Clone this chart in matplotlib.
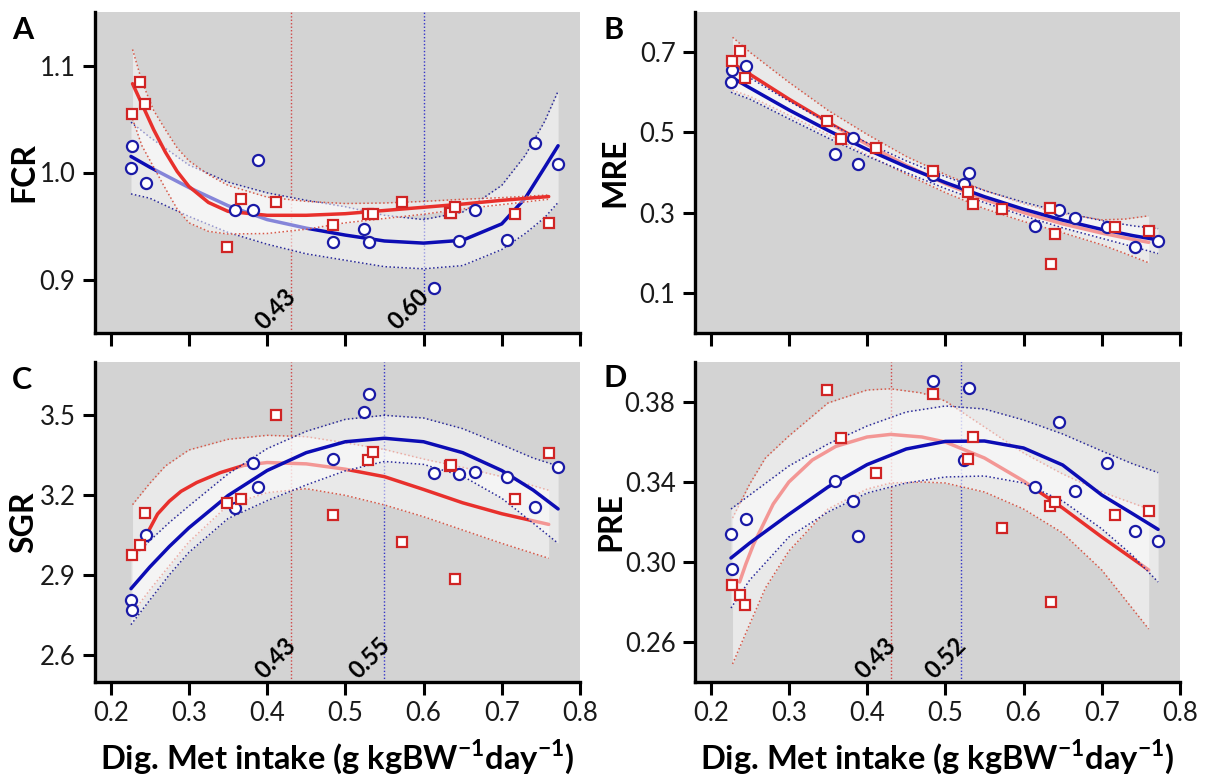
import matplotlib
matplotlib.use("Agg")
import matplotlib.pyplot as plt
import matplotlib.transforms as mtransforms

plt.rcParams['font.family'] = ['Lato', 'DejaVu Sans']
plt.rcParams['mathtext.fontset'] = 'custom'
plt.rcParams['mathtext.bf'] = 'Lato:bold'
plt.rcParams['mathtext.rm'] = 'Lato:bold'

# intake values of the two groups (same for every panel)
blue_x = [0.226, 0.227, 0.245, 0.359, 0.382, 0.388, 0.484, 0.524, 0.530, 0.614, 0.645, 0.666, 0.707, 0.742, 0.772]
red_x = [0.227, 0.237, 0.244, 0.349, 0.366, 0.411, 0.484, 0.529, 0.535, 0.573, 0.634, 0.635, 0.640, 0.717, 0.760]

# observed points
fcr_blue = [1.004, 1.025, 0.990, 0.965, 0.965, 1.012, 0.935, 0.947, 0.935, 0.892, 0.936, 0.965, 0.937, 1.028, 1.008]
fcr_red = [1.055, 1.085, 1.064, 0.930, 0.975, 0.972, 0.951, 0.961, 0.961, 0.972, 0.962, 0.962, 0.968, 0.961, 0.953]
mre_blue = [0.626, 0.656, 0.665, 0.447, 0.486, 0.420, 0.395, 0.372, 0.399, 0.267, 0.307, 0.287, 0.263, 0.215, 0.230]
mre_red = [0.679, 0.704, 0.635, 0.529, 0.483, 0.462, 0.404, 0.351, 0.322, 0.308, 0.312, 0.173, 0.247, 0.263, 0.253]
sgr_blue = [2.809, 2.771, 3.050, 3.151, 3.321, 3.232, 3.336, 3.511, 3.579, 3.284, 3.281, 3.287, 3.268, 3.155, 3.305]
sgr_red = [2.975, 3.013, 3.133, 3.173, 3.188, 3.500, 3.127, 3.331, 3.362, 3.026, 3.310, 3.315, 2.888, 3.188, 3.360]
pre_blue = [0.3138, 0.2967, 0.3213, 0.3403, 0.3307, 0.3131, 0.3903, 0.3510, 0.3870, 0.3373, 0.3701, 0.3357, 0.3497, 0.3153, 0.3106]
pre_red = [0.2883, 0.2835, 0.2786, 0.3861, 0.3618, 0.3447, 0.3841, 0.3514, 0.3625, 0.3169, 0.3282, 0.2800, 0.3299, 0.3235, 0.3254]

# fitted curves and confidence limits
fcr_blue_cx = [0.226, 0.25, 0.30, 0.35, 0.40, 0.45, 0.50, 0.55, 0.60, 0.65, 0.70, 0.73, 0.755, 0.772]
fcr_blue_fit = [1.015, 1.005, 0.986, 0.969, 0.956, 0.948, 0.9415, 0.936, 0.934, 0.9367, 0.952, 0.976, 1.005, 1.025]
fcr_blue_hi = [1.047, 1.033, 1.007, 0.991, 0.981, 0.974, 0.968, 0.960, 0.956, 0.963, 0.988, 1.016, 1.048, 1.076]
fcr_blue_lo = [0.980, 0.976, 0.959, 0.944, 0.933, 0.924, 0.918, 0.912, 0.910, 0.913, 0.928, 0.943, 0.958, 0.972]
fcr_red_cx = [0.228, 0.24, 0.255, 0.27, 0.285, 0.30, 0.325, 0.35, 0.40, 0.45, 0.50, 0.55, 0.60, 0.65, 0.70, 0.76]
fcr_red_fit = [1.083, 1.064, 1.040, 1.019, 1.001, 0.987, 0.972, 0.9637, 0.960, 0.960, 0.9615, 0.9645, 0.9675, 0.9705, 0.974, 0.9775]
fcr_red_hi = [1.115, 1.085, 1.058, 1.040, 1.023, 1.011, 0.998, 0.988, 0.977, 0.973, 0.971, 0.9715, 0.973, 0.975, 0.9765, 0.979]
fcr_red_lo = [1.050, 1.025, 1.005, 0.985, 0.966, 0.953, 0.945, 0.9425, 0.943, 0.947, 0.953, 0.957, 0.961, 0.966, 0.970, 0.975]

mre_blue_cx = [0.226, 0.25, 0.30, 0.35, 0.40, 0.45, 0.50, 0.55, 0.60, 0.65, 0.70, 0.74, 0.772]
mre_blue_fit = [0.638, 0.611, 0.556, 0.505, 0.4575, 0.4143, 0.375, 0.3397, 0.3085, 0.2813, 0.2582, 0.2426, 0.232]
mre_blue_hi = [0.665, 0.636, 0.578, 0.524, 0.474, 0.429, 0.390, 0.355, 0.326, 0.301, 0.280, 0.267, 0.260]
mre_blue_lo = [0.600, 0.583, 0.534, 0.486, 0.441, 0.400, 0.360, 0.325, 0.292, 0.262, 0.236, 0.215, 0.198]
mre_red_cx = [0.228, 0.25, 0.30, 0.35, 0.40, 0.45, 0.50, 0.55, 0.60, 0.65, 0.70, 0.73, 0.76]
mre_red_fit = [0.672, 0.645, 0.583, 0.525, 0.470, 0.418, 0.372, 0.333, 0.300, 0.272, 0.249, 0.237, 0.226]
mre_red_hi = [0.737, 0.700, 0.625, 0.555, 0.495, 0.440, 0.395, 0.355, 0.322, 0.297, 0.282, 0.284, 0.292]
mre_red_lo = [0.605, 0.590, 0.543, 0.495, 0.445, 0.396, 0.350, 0.310, 0.278, 0.250, 0.220, 0.198, 0.175]

sgr_blue_cx = [0.226, 0.25, 0.275, 0.30, 0.35, 0.40, 0.45, 0.50, 0.55, 0.60, 0.65, 0.70, 0.74, 0.772]
sgr_blue_fit = [2.850, 2.931, 3.008, 3.078, 3.199, 3.293, 3.360, 3.401, 3.414, 3.401, 3.360, 3.293, 3.220, 3.149]
sgr_blue_hi = [2.960, 3.030, 3.098, 3.160, 3.280, 3.375, 3.440, 3.485, 3.500, 3.490, 3.450, 3.390, 3.340, 3.310]
sgr_blue_lo = [2.715, 2.807, 2.902, 2.986, 3.113, 3.180, 3.239, 3.292, 3.327, 3.316, 3.272, 3.189, 3.096, 3.020]
sgr_red_cx = [0.248, 0.26, 0.275, 0.29, 0.31, 0.34, 0.37, 0.40, 0.45, 0.50, 0.55, 0.60, 0.65, 0.70, 0.76]
sgr_red_fit = [3.064, 3.130, 3.178, 3.215, 3.248, 3.285, 3.312, 3.323, 3.318, 3.298, 3.270, 3.222, 3.172, 3.131, 3.091]
sgr_band_cx = [0.228, 0.25, 0.27, 0.30, 0.35, 0.40, 0.45, 0.50, 0.55, 0.60, 0.65, 0.70, 0.76]
sgr_red_hi = [3.165, 3.245, 3.310, 3.370, 3.410, 3.425, 3.420, 3.397, 3.372, 3.336, 3.305, 3.270, 3.219]
sgr_red_lo = [2.760, 2.845, 2.918, 3.025, 3.163, 3.210, 3.225, 3.200, 3.164, 3.120, 3.070, 3.020, 2.964]

pre_blue_cx = [0.226, 0.25, 0.30, 0.35, 0.40, 0.45, 0.50, 0.55, 0.60, 0.65, 0.70, 0.74, 0.772]
pre_blue_fit = [0.302, 0.3095, 0.3238, 0.3375, 0.3487, 0.3565, 0.3603, 0.3605, 0.357, 0.3485, 0.3335, 0.324, 0.3163]
pre_blue_hi = [0.3265, 0.3335, 0.348, 0.359, 0.368, 0.375, 0.378, 0.3765, 0.371, 0.364, 0.3555, 0.349, 0.3447]
pre_blue_lo = [0.277, 0.291, 0.3125, 0.325, 0.3345, 0.3395, 0.3425, 0.343, 0.3395, 0.3305, 0.3166, 0.303, 0.290]
pre_red_cx = [0.237, 0.245, 0.255, 0.265, 0.28, 0.30, 0.33, 0.36, 0.40, 0.43, 0.47, 0.50, 0.55, 0.60, 0.65, 0.70, 0.76]
pre_red_fit = [0.290, 0.299, 0.309, 0.317, 0.329, 0.340, 0.351, 0.3578, 0.3625, 0.3638, 0.3625, 0.360, 0.352, 0.3405, 0.327, 0.3125, 0.296]
pre_band_cx = [0.228, 0.25, 0.27, 0.30, 0.35, 0.40, 0.43, 0.47, 0.50, 0.55, 0.60, 0.65, 0.70, 0.76]
pre_red_hi = [0.322, 0.339, 0.352, 0.363, 0.3795, 0.386, 0.3866, 0.3845, 0.3805, 0.3675, 0.3545, 0.344, 0.335, 0.3265]
pre_red_lo = [0.249, 0.269, 0.287, 0.3055, 0.3265, 0.3365, 0.3395, 0.340, 0.3395, 0.335, 0.3265, 0.3145, 0.296, 0.2665]

# optimum lines
optima = {'FCR': (0.43, 0.60), 'MRE': None, 'SGR': (0.43, 0.55), 'PRE': (0.43, 0.52)}

x_ticks = [0.2, 0.3, 0.4, 0.5, 0.6, 0.7, 0.8]
x_tick_labels = ['0.2', '0.3', '0.4', '0.5', '0.6', '0.7', '0.8']

RED = '#e8302c'
BLUE = '#0c0cb4'
RED_EDGE = '#d02424'
BLUE_EDGE = '#1a1aa6'
BG = '#d3d3d3'

W, H = 1208, 781
fig = plt.figure(figsize=(W / 100, H / 100), dpi=100)


def axes_px(left, top, right, bottom):
    return fig.add_axes([left / W, 1 - bottom / H, (right - left) / W, (bottom - top) / H])


def band(ax, x, lo, hi, color, z):
    ax.fill_between(x, lo, hi, color='white', alpha=0.5, lw=0, zorder=z)
    ax.plot(x, lo, color=color, lw=1.1, ls=(0, (1, 1.6)), zorder=z + 0.1)
    ax.plot(x, hi, color=color, lw=1.1, ls=(0, (1, 1.6)), zorder=z + 0.1)


def panel(ax, name, ylim, yticks, ylabels, blue_y, red_y, blue_c, red_c, red_first):
    ax.set_facecolor(BG)
    ax.set_xlim(0.18, 0.80)
    ax.set_ylim(*ylim)
    for s in ['top', 'right']:
        ax.spines[s].set_visible(False)
    for s in ['left', 'bottom']:
        ax.spines[s].set_linewidth(2.4)
    ax.tick_params(direction='out', length=9, width=2.2, pad=5, labelcolor='#1a1a1a')
    ax.set_xticks(x_ticks, x_tick_labels, fontsize=18.5)
    ax.set_yticks(yticks, ylabels, fontsize=18.5)

    bx, bfit, blo, bhi = blue_c
    rx, rfit, rbx, rlo, rhi = red_c
    if red_first:
        zr, zb = 2, 4
    else:
        zb, zr = 2, 4
    band(ax, rbx, rlo, rhi, '#d65a4a', zr)
    ax.plot(rx, rfit, color=RED, lw=2.5, zorder=zr + 0.5, solid_capstyle='round')
    band(ax, bx, blo, bhi, '#2a2a9a', zb)
    ax.plot(bx, bfit, color=BLUE, lw=2.5, zorder=zb + 0.5, solid_capstyle='round')

    ax.plot(blue_x, blue_y, 'o', ms=8, mfc='white', mec=BLUE_EDGE, mew=1.6, zorder=10)
    ax.plot(red_x, red_y, 's', ms=7.5, mfc='white', mec=RED_EDGE, mew=1.6, zorder=10)

    opt = optima[name]
    if opt:
        trans = mtransforms.blended_transform_factory(ax.transData, ax.transAxes)
        for xv, col in zip(opt, ['#d04848', '#3434c8']):
            ax.axvline(xv, color=col, lw=1.0, ls=(0, (1, 1.5)), zorder=1.5)
            ax.text(xv + 0.009, 0.11, f'{xv:.2f}', transform=trans, rotation=45,
                    rotation_mode='anchor', ha='right', va='baseline',
                    fontsize=17, fontweight='bold', zorder=11)


axA = axes_px(95, 12, 580, 333)
axB = axes_px(695, 12, 1180, 333)
axC = axes_px(95, 362, 580, 682)
axD = axes_px(695, 362, 1180, 682)

panel(axA, 'FCR', (0.85, 1.15), [0.9, 1.0, 1.1], ['0.9', '1.0', '1.1'], fcr_blue, fcr_red,
      (fcr_blue_cx, fcr_blue_fit, fcr_blue_lo, fcr_blue_hi),
      (fcr_red_cx, fcr_red_fit, fcr_red_cx, fcr_red_lo, fcr_red_hi), red_first=False)
panel(axB, 'MRE', (0.0, 0.8), [0.1, 0.3, 0.5, 0.7], ['0.1', '0.3', '0.5', '0.7'], mre_blue, mre_red,
      (mre_blue_cx, mre_blue_fit, mre_blue_lo, mre_blue_hi),
      (mre_red_cx, mre_red_fit, mre_red_cx, mre_red_lo, mre_red_hi), red_first=True)
panel(axC, 'SGR', (2.5, 3.7), [2.6, 2.9, 3.2, 3.5], ['2.6', '2.9', '3.2', '3.5'], sgr_blue, sgr_red,
      (sgr_blue_cx, sgr_blue_fit, sgr_blue_lo, sgr_blue_hi),
      (sgr_red_cx, sgr_red_fit, sgr_band_cx, sgr_red_lo, sgr_red_hi), red_first=True)
panel(axD, 'PRE', (0.24, 0.40), [0.26, 0.30, 0.34, 0.38], ['0.26', '0.30', '0.34', '0.38'], pre_blue, pre_red,
      (pre_blue_cx, pre_blue_fit, pre_blue_lo, pre_blue_hi),
      (pre_red_cx, pre_red_fit, pre_band_cx, pre_red_lo, pre_red_hi), red_first=True)

for ax in (axA, axB):
    ax.tick_params(labelbottom=False)

xlab = r'Dig. Met intake (g kgBW$^{\mathbf{-1}}$day$^{\mathbf{-1}}$)'
for ax in (axC, axD):
    ax.set_xlabel(xlab, fontsize=23.5, fontweight='bold', va='center')
    ax.xaxis.set_label_coords(0.5, -(757 - 682) / 320)

for ax, lab, xc in [(axA, 'FCR', 24), (axB, 'MRE', 615), (axC, 'SGR', 24), (axD, 'PRE', 611)]:
    left = 95 if xc < 300 else 695
    ax.set_ylabel(lab, fontsize=23, fontweight='bold', va='center')
    ax.yaxis.set_label_coords((xc - left) / 485, 0.5)

for letter, px, py in [('A', 12, 16), ('B', 603, 16), ('C', 12, 366), ('D', 603, 364)]:
    fig.text(px / W, 1 - py / H, letter, fontsize=22, fontweight='bold', va='top', ha='left')

fig.savefig('out.png', dpi=100)
